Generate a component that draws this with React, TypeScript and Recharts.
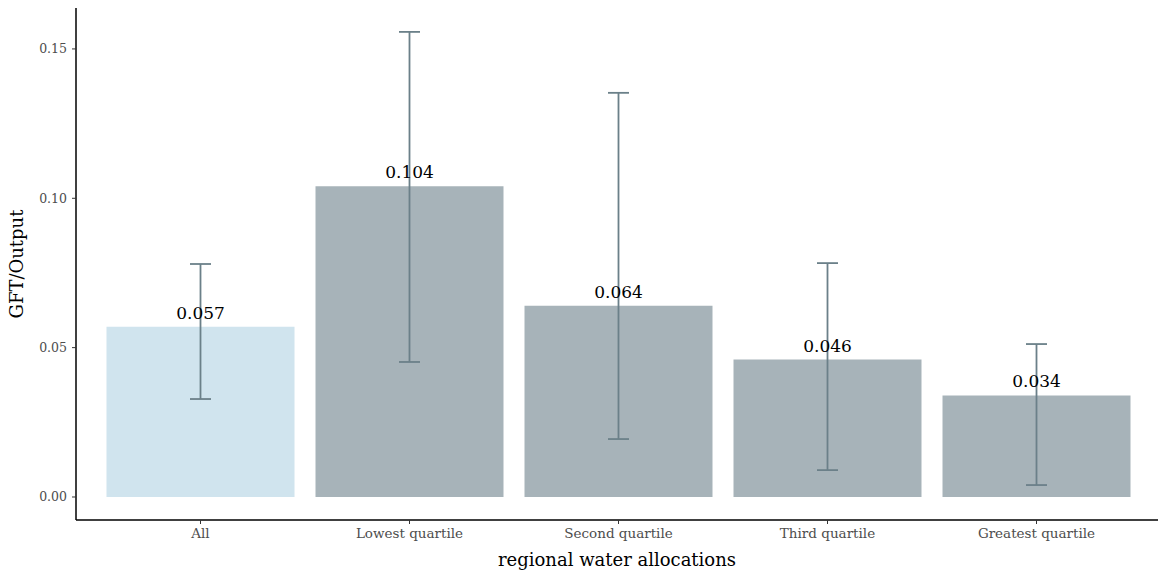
import React from 'react';
import { BarChart, Bar, Cell, XAxis, YAxis, ErrorBar, LabelList } from 'recharts';

const categories = ['All', 'Lowest quartile', 'Second quartile', 'Third quartile', 'Greatest quartile'];
const ratio = [0.057, 0.104, 0.064, 0.046, 0.034];
const lower = [0.0328, 0.0452, 0.0194, 0.009, 0.004];
const upper = [0.078, 0.1557, 0.1353, 0.0783, 0.0512];
const yTicks = [0, 0.05, 0.1, 0.15];

const BAR_COLORS = ['#d0e4ee', '#a7b3b9', '#a7b3b9', '#a7b3b9', '#a7b3b9'];
const SERIF = '"DejaVu Serif", serif';

const data = categories.map((c, i) => ({
  group: c,
  ratio: ratio[i],
  err: [ratio[i] - lower[i], upper[i] - ratio[i]],
}));

const App = () => {
  return (
    <div style={{ position: 'absolute', left: 0, top: 0 }}>
      <BarChart
        width={1158}
        height={577}
        data={data}
        margin={{ top: 8, right: 0, bottom: 0, left: 0 }}
        barCategoryGap={10.5}
      >
        <XAxis
          dataKey="group"
          padding={{ left: 20, right: 17 }}
          height={57}
          tickSize={4}
          tickMargin={4}
          axisLine={{ stroke: '#000', strokeWidth: 1.5 }}
          tickLine={{ stroke: '#333' }}
          tick={{ fill: '#4d4d4d', fontSize: 13.5, fontFamily: SERIF }}
          label={{
            value: 'regional water allocations',
            position: 'insideBottom',
            offset: 11,
            fill: '#000',
            fontSize: 18,
            fontFamily: SERIF,
          }}
        />
        <YAxis
          width={76}
          domain={[-0.0077, 0.1637]}
          allowDataOverflow
          ticks={yTicks}
          tickFormatter={(v: number) => v.toFixed(2)}
          tickSize={4}
          tickMargin={5}
          axisLine={{ stroke: '#000', strokeWidth: 1.5 }}
          tickLine={{ stroke: '#333' }}
          tick={{ fill: '#4d4d4d', fontSize: 12.5, fontFamily: SERIF }}
          label={{
            value: 'GFT/Output',
            angle: -90,
            position: 'insideLeft',
            offset: 17,
            style: { textAnchor: 'middle' },
            fill: '#000',
            fontSize: 18,
            fontFamily: SERIF,
          }}
        />
        <Bar dataKey="ratio" isAnimationActive={false}>
          {data.map((d, i) => (
            <Cell key={`cell-${i}`} fill={BAR_COLORS[i]} />
          ))}
          <LabelList
            dataKey="ratio"
            position="top"
            offset={8}
            formatter={(v: number) => v.toFixed(3)}
            style={{ fill: '#000', fontSize: 17, fontFamily: SERIF }}
          />
          <ErrorBar dataKey="err" width={10.5} stroke="#6b8089" strokeWidth={1.8} direction="y" />
        </Bar>
      </BarChart>
    </div>
  );
};

export default App;
